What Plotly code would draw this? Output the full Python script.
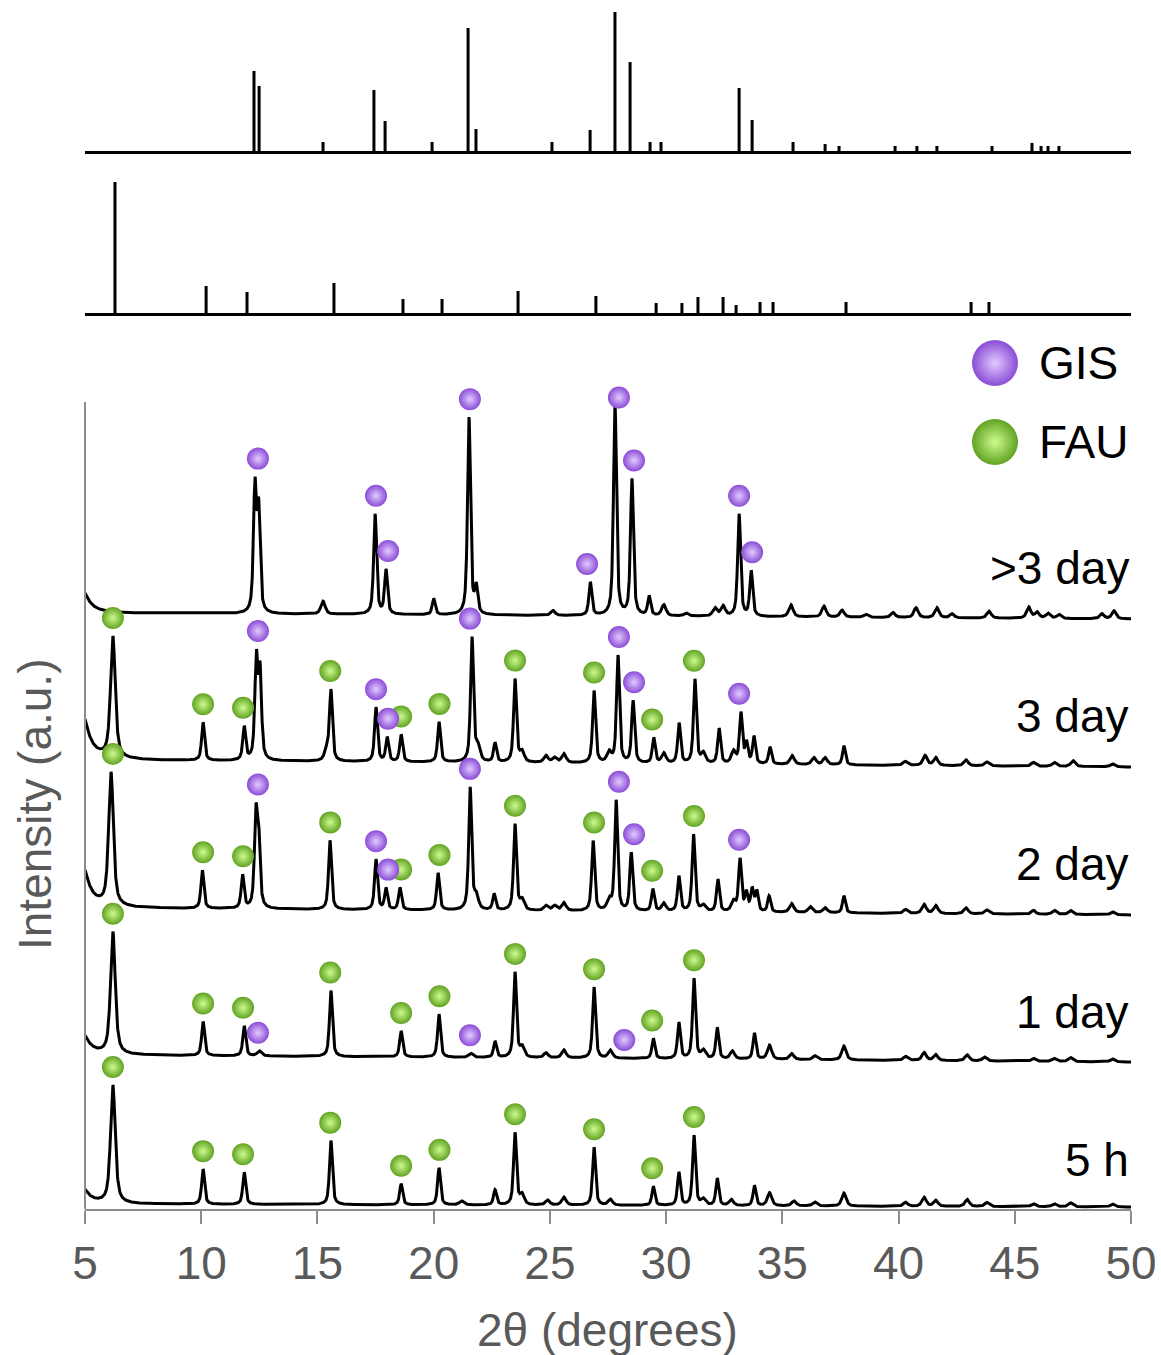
import numpy as np
import plotly.graph_objects as go

# ---------------- reference stick patterns (relative intensity, %) ----------------
gis_ref_pos = [12.27, 12.49, 15.24, 17.43, 17.91, 19.93, 21.48, 21.82, 25.09, 26.73,
               27.80, 28.45, 29.31, 29.78, 33.14, 33.70, 35.46, 36.84, 37.44, 39.85,
               40.79, 41.65, 44.02, 45.74, 46.13, 46.43, 46.90]
gis_ref_int = [57.6, 46.8, 6.5, 43.9, 21.6, 6.5, 88.5, 15.8, 6.5, 15.1,
               100.0, 64.0, 6.5, 6.5, 45.3, 22.3, 6.5, 5.0, 3.6, 3.6,
               3.6, 3.6, 3.6, 5.8, 3.6, 3.6, 3.6]

fau_ref_pos = [6.29, 10.21, 11.97, 15.71, 18.68, 20.36, 23.63, 26.98, 29.57, 30.68,
               31.37, 32.45, 33.01, 34.04, 34.60, 37.74, 43.12, 43.89]
fau_ref_int = [100.0, 20.6, 16.0, 22.9, 10.7, 10.7, 16.8, 13.0, 7.6, 7.6,
               12.2, 12.2, 6.1, 8.4, 8.4, 8.4, 8.4, 8.4]

# ---------------- measured patterns (stacked, arbitrary units) ----------------
sample_labels = [">3 day", "3 day", "2 day", "1 day", "5 h"]
baseline_start = [596, 449, 301, 154, 5]     # background level at 5 deg
baseline_end = [590, 442, 294, 147, 2]       # background level at 50 deg
low_angle_rise = [20, 40, 37, 19, 14]        # extra intensity at 5 deg

peaks_gt3day_pos = [12.31, 12.47, 15.24, 17.48, 17.95, 20.0, 21.52, 21.83, 25.13, 26.74,
                    27.80, 28.53, 29.27, 29.9, 30.86, 32.1, 32.45, 33.14, 33.66, 35.37,
                    36.79, 37.57, 38.6, 39.76, 40.75, 41.65, 42.3, 43.89, 45.6, 45.96,
                    46.43, 46.9, 48.75, 49.27]
peaks_gt3day_int = [124, 100, 13, 100, 44, 16, 197, 26, 5, 33,
                    212, 136, 19, 11, 3, 8, 10, 102, 45, 12,
                    11, 7, 3, 5, 10, 10, 4, 7, 11, 6,
                    5, 4, 5, 8]

peaks_3day_pos = [6.2, 10.08, 11.85, 12.37, 12.53, 15.4, 15.58, 17.52, 18.0, 18.6,
                  20.23, 21.65, 21.9, 22.64, 23.5, 23.8, 24.83, 25.2, 25.6, 26.9,
                  27.55, 27.93, 28.58, 29.47, 29.9, 30.56, 31.24, 31.6, 32.28, 32.9,
                  33.22, 33.46, 33.78, 34.47, 35.42, 36.36, 36.84, 37.65, 40.28, 41.14,
                  41.6, 42.9, 43.8, 45.8, 46.7, 47.5, 49.2]
peaks_3day_int = [121, 38, 33, 100, 86, 10, 70, 54, 24, 27,
                  40, 124, 14, 19, 83, 10, 7, 5, 9, 72,
                  10, 107, 62, 25, 10, 40, 84, 10, 35, 12,
                  50, 20, 27, 17, 9, 7, 7, 19, 4, 10,
                  8, 6, 4, 4, 4, 6, 3]

peaks_2day_pos = [6.12, 10.05, 11.78, 12.35, 12.47, 15.54, 17.52, 17.95, 18.55, 20.19,
                  21.57, 21.83, 22.6, 23.5, 23.8, 24.83, 25.2, 25.6, 26.86, 27.55,
                  27.85, 28.5, 29.43, 29.9, 30.55, 31.18, 31.6, 32.23, 32.9, 33.18,
                  33.45, 33.7, 33.9, 34.43, 35.4, 36.2, 36.84, 37.65, 40.3, 41.1,
                  41.6, 42.9, 43.8, 45.8, 46.7, 47.4, 49.2]
peaks_2day_int = [133, 38, 33, 88, 68, 69, 50, 21, 22, 37,
                  122, 13, 16, 86, 10, 5, 5, 8, 70, 10,
                  110, 58, 22, 8, 35, 77, 6, 32, 10, 52,
                  18, 22, 20, 16, 9, 6, 5, 17, 4, 9,
                  8, 6, 4, 4, 4, 4, 3]

peaks_1day_pos = [6.2, 10.08, 11.85, 12.5, 15.58, 18.6, 20.23, 21.6, 22.64, 23.5,
                  23.8, 24.83, 25.6, 26.9, 27.6, 29.45, 30.55, 31.2, 31.6, 32.2,
                  32.85, 33.8, 34.45, 35.4, 36.4, 37.65, 40.3, 41.1, 41.6, 42.95,
                  43.7, 45.8, 46.7, 47.4, 49.2]
peaks_1day_int = [122, 34, 30, 5, 66, 26, 43, 4, 16, 85,
                  10, 5, 8, 71, 8, 20, 36, 80, 8, 31,
                  8, 26, 14, 6, 4, 14, 4, 8, 6, 6,
                  4, 3, 3, 4, 3]

peaks_5h_pos = [6.2, 10.08, 11.85, 15.58, 18.6, 20.23, 21.2, 22.64, 23.5, 23.8,
                24.9, 25.6, 26.9, 27.6, 29.45, 30.55, 31.2, 31.6, 32.2, 32.8,
                33.8, 34.45, 35.5, 36.4, 37.65, 40.3, 41.1, 41.6, 42.95, 43.8,
                45.8, 46.7, 47.4, 49.2]
peaks_5h_int = [118, 35, 32, 64, 21, 37, 4, 15, 72, 10,
                5, 8, 58, 6, 19, 33, 70, 6, 27, 6,
                20, 13, 5, 4, 13, 4, 9, 6, 7, 4,
                3, 3, 4, 3]

peak_tables = [
    (peaks_gt3day_pos, peaks_gt3day_int),
    (peaks_3day_pos, peaks_3day_int),
    (peaks_2day_pos, peaks_2day_int),
    (peaks_1day_pos, peaks_1day_int),
    (peaks_5h_pos, peaks_5h_int),
]

# phase assignments (2-theta of labelled reflections)
fau_marks = [6.2, 10.08, 11.8, 15.55, 18.6, 20.25, 23.5, 26.9, 29.4, 31.2]
gis_marks_full = [12.44, 17.52, 18.04, 21.56, 27.97, 28.62, 33.14]
gis_marks = [
    [12.44, 17.52, 18.04, 21.56, 26.6, 27.97, 28.62, 33.14, 33.7],
    gis_marks_full,
    gis_marks_full,
    [12.44, 21.56, 28.2],
    [],
]
fau_marks_per_sample = [[], fau_marks, fau_marks, fau_marks, fau_marks]

# ---------------- profile construction ----------------
two_theta = np.linspace(5, 50, 4501)


def pseudo_voigt(x, x0, height, fwhm, eta=0.65):
    d = (x - x0) / (fwhm / 2.0)
    return height * (eta / (1.0 + d ** 2) + (1.0 - eta) * np.exp(-np.log(2) * d ** 2))


def build_profile(i):
    pos, amp = peak_tables[i]
    y = baseline_start[i] + (baseline_end[i] - baseline_start[i]) * (two_theta - 5) / 45.0
    # small-angle scattering tail
    y = y + low_angle_rise[i] * (1 + (0.2 / 0.35) ** 2) / (1 + ((two_theta - 4.8) / 0.35) ** 2)
    for p, a in zip(pos, amp):
        if p < 7:
            w = 0.24
        elif a < 15:
            w = 0.22
        else:
            w = 0.15
        y = y + pseudo_voigt(two_theta, p, a, w)
    return y


profiles = [build_profile(i) for i in range(len(sample_labels))]

H = 1355.0
W = 1161.0
X0, X1 = 85.0, 1131.0
GAP = 18.0


def marker_y(profile, x):
    m = (two_theta >= x - 0.15) & (two_theta <= x + 0.15)
    return float(profile[m].max()) + GAP


fig = go.Figure()

# GIS reference sticks
fig.add_trace(go.Bar(x=gis_ref_pos, y=gis_ref_int, width=0.13,
                     marker=dict(color="black", line=dict(width=0)),
                     xaxis="x", yaxis="y", showlegend=False))
# FAU reference sticks
fig.add_trace(go.Bar(x=fau_ref_pos, y=fau_ref_int, width=0.13,
                     marker=dict(color="black", line=dict(width=0)),
                     xaxis="x2", yaxis="y2", showlegend=False))

# measured patterns
for prof in profiles:
    fig.add_trace(go.Scatter(x=two_theta, y=prof, mode="lines",
                             line=dict(color="black", width=3),
                             xaxis="x3", yaxis="y3", showlegend=False,
                             hoverinfo="skip"))

GIS_EDGE, GIS_CORE = "#8a4cd6", "#e2cbff"
FAU_EDGE, FAU_CORE = "#61a322", "#cdfb8f"

gx, gy, fx, fy = [], [], [], []
for i, prof in enumerate(profiles):
    for x in gis_marks[i]:
        gx.append(x)
        gy.append(marker_y(prof, x))
    for x in fau_marks_per_sample[i]:
        fx.append(x)
        fy.append(marker_y(prof, x))

fig.add_trace(go.Scatter(x=fx, y=fy, mode="markers", xaxis="x3", yaxis="y3",
                         marker=dict(size=22, color=FAU_EDGE,
                                     gradient=dict(type="radial", color=FAU_CORE),
                                     line=dict(width=0)),
                         showlegend=False, cliponaxis=False))
fig.add_trace(go.Scatter(x=gx, y=gy, mode="markers", xaxis="x3", yaxis="y3",
                         marker=dict(size=22, color=GIS_EDGE,
                                     gradient=dict(type="radial", color=GIS_CORE),
                                     line=dict(width=0)),
                         showlegend=False, cliponaxis=False))

# key spheres
key_x = 5 + (995 - X0) / ((X1 - X0) / 45.0)
fig.add_trace(go.Scatter(x=[key_x], y=[1209 - 363], mode="markers", xaxis="x3", yaxis="y3",
                         marker=dict(size=46, color=GIS_EDGE,
                                     gradient=dict(type="radial", color=GIS_CORE),
                                     line=dict(width=0)),
                         showlegend=False, cliponaxis=False))
fig.add_trace(go.Scatter(x=[key_x], y=[1209 - 442], mode="markers", xaxis="x3", yaxis="y3",
                         marker=dict(size=46, color=FAU_EDGE,
                                     gradient=dict(type="radial", color=FAU_CORE),
                                     line=dict(width=0)),
                         showlegend=False, cliponaxis=False))

FONT = "Liberation Sans, Arial, Helvetica, sans-serif"
GREY_TXT = "#595959"
GREY_LINE = "#8c8c8c"

xdom = [X0 / W, X1 / W]


def py(px):
    return 1 - px / H


annotations = []
label_y = [568, 716, 864, 1012, 1160]
for lab, ly in zip(sample_labels, label_y):
    annotations.append(dict(text=lab, x=X1 / W, y=py(ly), xref="paper", yref="paper",
                            xanchor="right", yanchor="middle", showarrow=False,
                            font=dict(family=FONT, size=46, color="black")))
annotations.append(dict(text="GIS", x=1037 / W, y=py(363), xref="paper", yref="paper",
                        xanchor="left", yanchor="middle", showarrow=False,
                        font=dict(family=FONT, size=46, color="black")))
annotations.append(dict(text="FAU", x=1037 / W, y=py(442), xref="paper", yref="paper",
                        xanchor="left", yanchor="middle", showarrow=False,
                        font=dict(family=FONT, size=46, color="black")))
annotations.append(dict(text="2θ (degrees)", x=607 / W, y=py(1330), xref="paper", yref="paper",
                        xanchor="center", yanchor="middle", showarrow=False,
                        font=dict(family=FONT, size=46, color=GREY_TXT)))
annotations.append(dict(text="Intensity (a.u.)", x=35 / W, y=py(805), xref="paper", yref="paper",
                        xanchor="center", yanchor="middle", showarrow=False, textangle=-90,
                        font=dict(family=FONT, size=46, color=GREY_TXT)))

shapes = [dict(type="line", xref="paper", yref="paper", x0=X0 / W, x1=X0 / W,
               y0=py(1209), y1=py(402), line=dict(color=GREY_LINE, width=2))]

fig.update_layout(
    width=1161, height=1355,
    margin=dict(l=0, r=0, t=0, b=0, autoexpand=False),
    paper_bgcolor="white", plot_bgcolor="rgba(0,0,0,0)",
    showlegend=False,
    xaxis=dict(domain=xdom, range=[5, 50], anchor="y", showline=True, linecolor="black",
               linewidth=3, ticks="", showticklabels=False, showgrid=False, zeroline=False,
               automargin=False),
    yaxis=dict(domain=[py(151), py(5)], range=[0, 146 / 139 * 100], visible=False),
    xaxis2=dict(domain=xdom, range=[5, 50], anchor="y2", showline=True, linecolor="black",
                linewidth=3, ticks="", showticklabels=False, showgrid=False, zeroline=False,
                automargin=False),
    yaxis2=dict(domain=[py(313), py(170)], range=[0, 143 / 131 * 100], visible=False),
    xaxis3=dict(domain=xdom, range=[5, 50], anchor="y3", showline=True, linecolor=GREY_LINE,
                linewidth=2, ticks="outside", ticklen=13, tickwidth=1.5, tickcolor=GREY_LINE,
                tickvals=[5, 10, 15, 20, 25, 30, 35, 40, 45, 50],
                tickfont=dict(family=FONT, size=46, color=GREY_TXT),
                showgrid=False, zeroline=False, automargin=False),
    yaxis3=dict(domain=[py(1209), py(330)], range=[0, 879], visible=False),
    annotations=annotations,
    shapes=shapes,
)

fig.write_html("out.html")
